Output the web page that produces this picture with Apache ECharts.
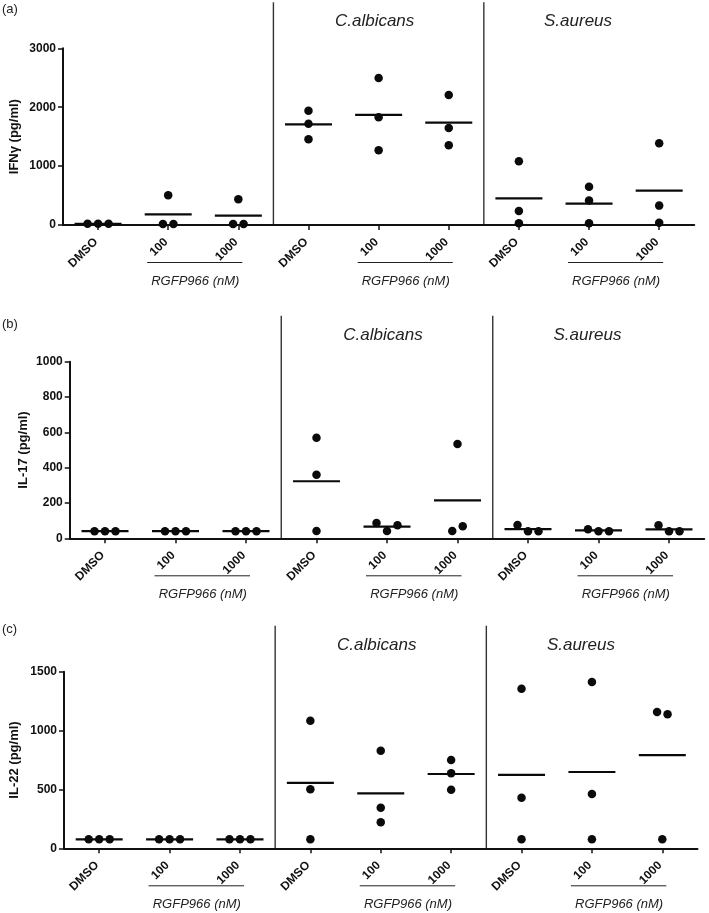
<!DOCTYPE html>
<html><head><meta charset="utf-8">
<script src="https://cdn.jsdelivr.net/npm/echarts@6/dist/echarts.min.js"></script>
<style>html,body{margin:0;padding:0;background:#fff}#c{width:709px;height:913px}</style>
</head><body><div id="c"></div>
<script>
// ---------- data ----------
const categories = ['DMSO', '100', '1000', 'DMSO', '100', '1000', 'DMSO', '100', '1000'];
const groupLabels = ['C.albicans', 'S.aureus'];
const treatmentLabel = 'RGFP966 (nM)';
const panelLetters = ['(a)', '(b)', '(c)'];
const yNames = ['IFN\u03b3 (pg/ml)', 'IL-17 (pg/ml)', 'IL-22 (pg/ml)'];
const yMax = [3000, 1000, 1500];
const yInterval = [1000, 200, 500];

// values per category (3 replicates each)
const ifngValues = [[20, 20, 20], [504, 17, 17], [436, 17, 17],
  [1941, 1720, 1455], [2496, 1829, 1268], [2207, 1647, 1353],
  [1081, 238, 28], [651, 414, 28], [1387, 329, 40]];
const ifngMeans = [20, 181, 158, 1710, 1868, 1738, 453, 362, 583];

const il17Values = [[40, 40, 40], [40, 40, 40], [40, 40, 40],
  [570, 360, 41], [87, 41, 74], [534, 41, 68],
  [75, 40, 40], [51, 40, 40], [74, 40, 40]];
const il17Means = [41, 41, 41, 323, 66, 215, 52, 45, 51];

const il22Values = [[76, 76, 76], [76, 76, 76], [76, 76, 76],
  [1084, 501, 76], [829, 345, 221], [750, 637, 498],
  [1356, 430, 76], [1412, 461, 76], [1158, 1138, 76]];
const il22Means = [76, 76, 76, 555, 467, 631, 623, 648, 792];

const panelValues = [ifngValues, il17Values, il22Values];
const panelMeans = [ifngMeans, il17Means, il22Means];

// ---------- layout ----------
const FONT = "'Liberation Sans', Arial, Helvetica, sans-serif";
const grids = [
  { left: 59.75, top: 48.3, width: 634.5, height: 176.7 },
  { left: 69.75, top: 361.7, width: 634.5, height: 176.6 },
  { left: 63, top: 671.7, width: 634.5, height: 176.6 }
];
const nameGaps = [42, 40, 43];
const letterY = [9, 324, 629];
const DOT = 8.5, SPREAD = 10.5, OVERLAP = 9;

function offsets(vals, ppu) {
  const clusters = [];
  vals.forEach((v, i) => {
    let hit = null;
    for (const c of clusters) {
      if (c.some(j => Math.abs(vals[j] - v) * ppu < OVERLAP)) { hit = c; break; }
    }
    if (hit) hit.push(i); else clusters.push([i]);
  });
  const off = new Array(vals.length).fill(0);
  clusters.forEach(c => c.forEach((idx, k) => { off[idx] = (k - (c.length - 1) / 2) * SPREAD; }));
  return off;
}

const chart = echarts.init(document.getElementById('c'), null, { renderer: 'canvas' });

const xAxes = [], yAxes = [], series = [];
grids.forEach((g, p) => {
  xAxes.push({
    type: 'category', gridIndex: p, data: categories, boundaryGap: true,
    axisLine: { show: true, lineStyle: { color: '#111', width: 2 } },
    axisTick: { show: true, alignWithLabel: true, length: 5, lineStyle: { color: '#111', width: 1.5 } },
    axisLabel: { rotate: 45, margin: 13, padding: [0, 3, 0, 0], fontSize: 12, fontWeight: 'bold', color: '#111', fontFamily: FONT, interval: 0 },
    splitLine: { show: false }
  });
  yAxes.push({
    type: 'value', gridIndex: p, min: 0, max: yMax[p], interval: yInterval[p],
    name: yNames[p], nameLocation: 'middle', nameGap: nameGaps[p], nameMoveOverlap: false,
    nameTextStyle: { fontSize: 13, fontWeight: 'bold', color: '#111', fontFamily: FONT },
    axisLine: { show: true, lineStyle: { color: '#111', width: 2 } },
    axisTick: { show: true, length: 5, lineStyle: { color: '#111', width: 1.5 } },
    axisLabel: { margin: 7, fontSize: 12, fontWeight: 'bold', color: '#111', fontFamily: FONT, formatter: v => String(v) },
    splitLine: { show: false }
  });
  const ppu = g.height / yMax[p];
  const dots = [];
  panelValues[p].forEach((vals, i) => {
    const off = offsets(vals, ppu);
    vals.forEach((v, k) => dots.push({ value: [i, v], symbolOffset: [off[k], 0] }));
  });
  series.push({
    type: 'scatter', xAxisIndex: p, yAxisIndex: p, data: dots,
    symbol: 'circle', symbolSize: DOT, itemStyle: { color: '#0a0a0a', opacity: 1 }, z: 3, silent: true
  });
  series.push({
    type: 'scatter', xAxisIndex: p, yAxisIndex: p,
    data: panelMeans[p].map((m, i) => [i, m]),
    symbol: 'rect', symbolSize: [47, 2.2], itemStyle: { color: '#0a0a0a', opacity: 1 }, z: 2, silent: true
  });
});

chart.setOption({
  animation: false,
  backgroundColor: '#fff',
  grid: grids.map(g => Object.assign({ containLabel: false }, g)),
  xAxis: xAxes, yAxis: yAxes, series: series
});

// ---------- annotations placed through the axes ----------
const graphics = [];
grids.forEach((g, p) => {
  const px = (i, v) => chart.convertToPixel({ gridIndex: p }, [i, v]);
  const axisY = px(0, 0)[1];
  const topY = px(0, yMax[p])[1];
  graphics.push({
    type: 'text', style: { text: panelLetters[p], x: 2, y: letterY[p], font: '13px ' + FONT, fill: '#222', textAlign: 'left', textVerticalAlign: 'middle' }
  });
  [3, 6].forEach(b => {
    const x = (px(b - 1, 0)[0] + px(b, 0)[0]) / 2;
    graphics.push({
      type: 'line', shape: { x1: x, y1: Math.max(0, topY - 46), x2: x, y2: axisY },
      style: { stroke: '#333', lineWidth: 1.4 }
    });
  });
  groupLabels.forEach((lab, gi) => {
    const mid = px(3 * (gi + 1) + 1, 0)[0];
    graphics.push({
      type: 'text', style: { text: lab, x: mid + (gi === 0 ? -4 : -11), y: topY - 26.7, font: 'italic 17px ' + FONT, fill: '#222', textAlign: 'center', textVerticalAlign: 'middle' }
    });
  });
  for (let gi = 0; gi < 3; gi++) {
    const a = px(3 * gi + 1, 0)[0], b = px(3 * gi + 2, 0)[0];
    graphics.push({
      type: 'line', shape: { x1: a - 21, y1: axisY + 37.5, x2: b + 4, y2: axisY + 37.5 },
      style: { stroke: '#222', lineWidth: 1 }
    });
    graphics.push({
      type: 'text', style: { text: treatmentLabel, x: (a + b) / 2 - 8, y: axisY + 56, font: 'italic 13px ' + FONT, fill: '#222', textAlign: 'center', textVerticalAlign: 'middle' }
    });
  }
});
chart.setOption({ graphic: graphics });
</script>
</body></html>
